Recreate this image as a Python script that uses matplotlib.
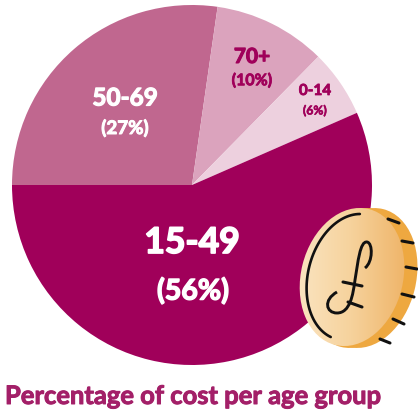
import numpy as np
import matplotlib
matplotlib.use('Agg')
import matplotlib.pyplot as plt
import matplotlib.patheffects as pe
from matplotlib.patches import Ellipse, PathPatch
from matplotlib.path import Path
from matplotlib.colors import LinearSegmentedColormap

groups = ['50-69', '70+', '0-14', '15-49']
shares = [27, 10, 6, 56]
share_labels = ['(27%)', '(10%)', '(6%)', '(56%)']
colors = ['#C0678F', '#DBA3BD', '#EDD0DE', '#A0005A']
title = 'Percentage of cost per age group'

plt.rcParams['font.family'] = ['Lato', 'DejaVu Sans']

W, H = 418, 412
fig = plt.figure(figsize=(W / 100, H / 100), dpi=100)
ax = fig.add_axes([0, 0, 1, 1])

# pie drawn in pixel style coordinates, y flipped with H - y
ax.pie(shares, colors=colors, startangle=180, counterclock=False,
       center=(192, H - 185), radius=180, frame=True,
       wedgeprops={'linewidth': 0})

# labels: x, y of group, x, y of share, font sizes
label_pos = [(125, 98, 125, 128, 17.5, 13.5), (252, 57, 252, 81, 15, 11.5),
             (315, 91, 315, 111, 11, 8.8), (192, 243, 193, 291, 25.5, 20.5)]
label_col = ['white', '#A0005A', '#A0005A', 'white']
for g, s, p, c in zip(groups, share_labels, label_pos, label_col):
    x1, y1, x2, y2, fs1, fs2 = p
    for txt, x, y, fs in [(g, x1, y1, fs1), (s, x2, y2, fs2)]:
        ax.text(x, H - y, txt, ha='center', va='center', color=c, fontsize=fs,
                fontweight='bold',
                path_effects=[pe.withStroke(linewidth=fs * 0.05, foreground=c)])

# coin
angle = -14
for cx in [358, 366]:
    ax.add_patch(Ellipse((cx, H - 278), 100, 142, angle=angle, fc='#EEA840', ec='none', zorder=3))
face = Ellipse((352, H - 277), 102, 140, angle=angle, fc='none', ec='none', zorder=4)
ax.add_patch(face)
coin_cmap = LinearSegmentedColormap.from_list('coin', ['#FBE4C0', '#F6D29C', '#EFB56A'])
im = ax.imshow(np.linspace(0, 1, 128).reshape(1, -1), cmap=coin_cmap, aspect='auto',
               extent=(298, 405, H - 350, H - 205), zorder=4)
im.set_clip_path(face)

# left arc on the face
t = np.radians(np.linspace(100, 262, 60))
rad = np.radians(angle)
ex, ey = 44 * np.cos(t), 64 * np.sin(t)
ax.plot(352 + ex * np.cos(rad) - ey * np.sin(rad),
        H - 277 + ex * np.sin(rad) + ey * np.cos(rad),
        color='#111111', lw=1.9, zorder=5, solid_capstyle='round')

# rim ticks
ticks = [((388, 219), (399, 223)), ((402, 241), (413, 243)), ((406, 267), (417, 269)),
         ((402, 294), (414, 297)), ((393, 319), (404, 324)), ((380, 339), (390, 343))]
bars = [((343, 282), (362, 286)), ((348, 302), (362, 307))]
for a, b in ticks + bars:
    ax.plot([a[0], b[0]], [H - a[1], H - b[1]], color='#111111', lw=2.2, zorder=5,
            solid_capstyle='round')

# pound sign
pts = [(365, 268), (373, 262), (373, 243), (367, 242), (360, 241), (358, 262), (355, 280),
       (353, 295), (350, 313), (337, 313), (326, 313), (323, 300), (337, 292)]
codes = [Path.MOVETO] + [Path.CURVE4] * 12
pound = Path([(x, H - y) for x, y in pts], codes)
ax.add_patch(PathPatch(pound, fc='none', ec='#111111', lw=2.1, zorder=5))

ax.text(5, H - 396, title, ha='left', va='center', color='#A31F68',
        fontsize=18.4, fontweight='bold',
        path_effects=[pe.withStroke(linewidth=0.7, foreground='#A31F68')])

ax.set_xlim(0, W)
ax.set_ylim(0, H)
ax.set_aspect('equal')
ax.axis('off')

fig.savefig('out.png', dpi=100)
